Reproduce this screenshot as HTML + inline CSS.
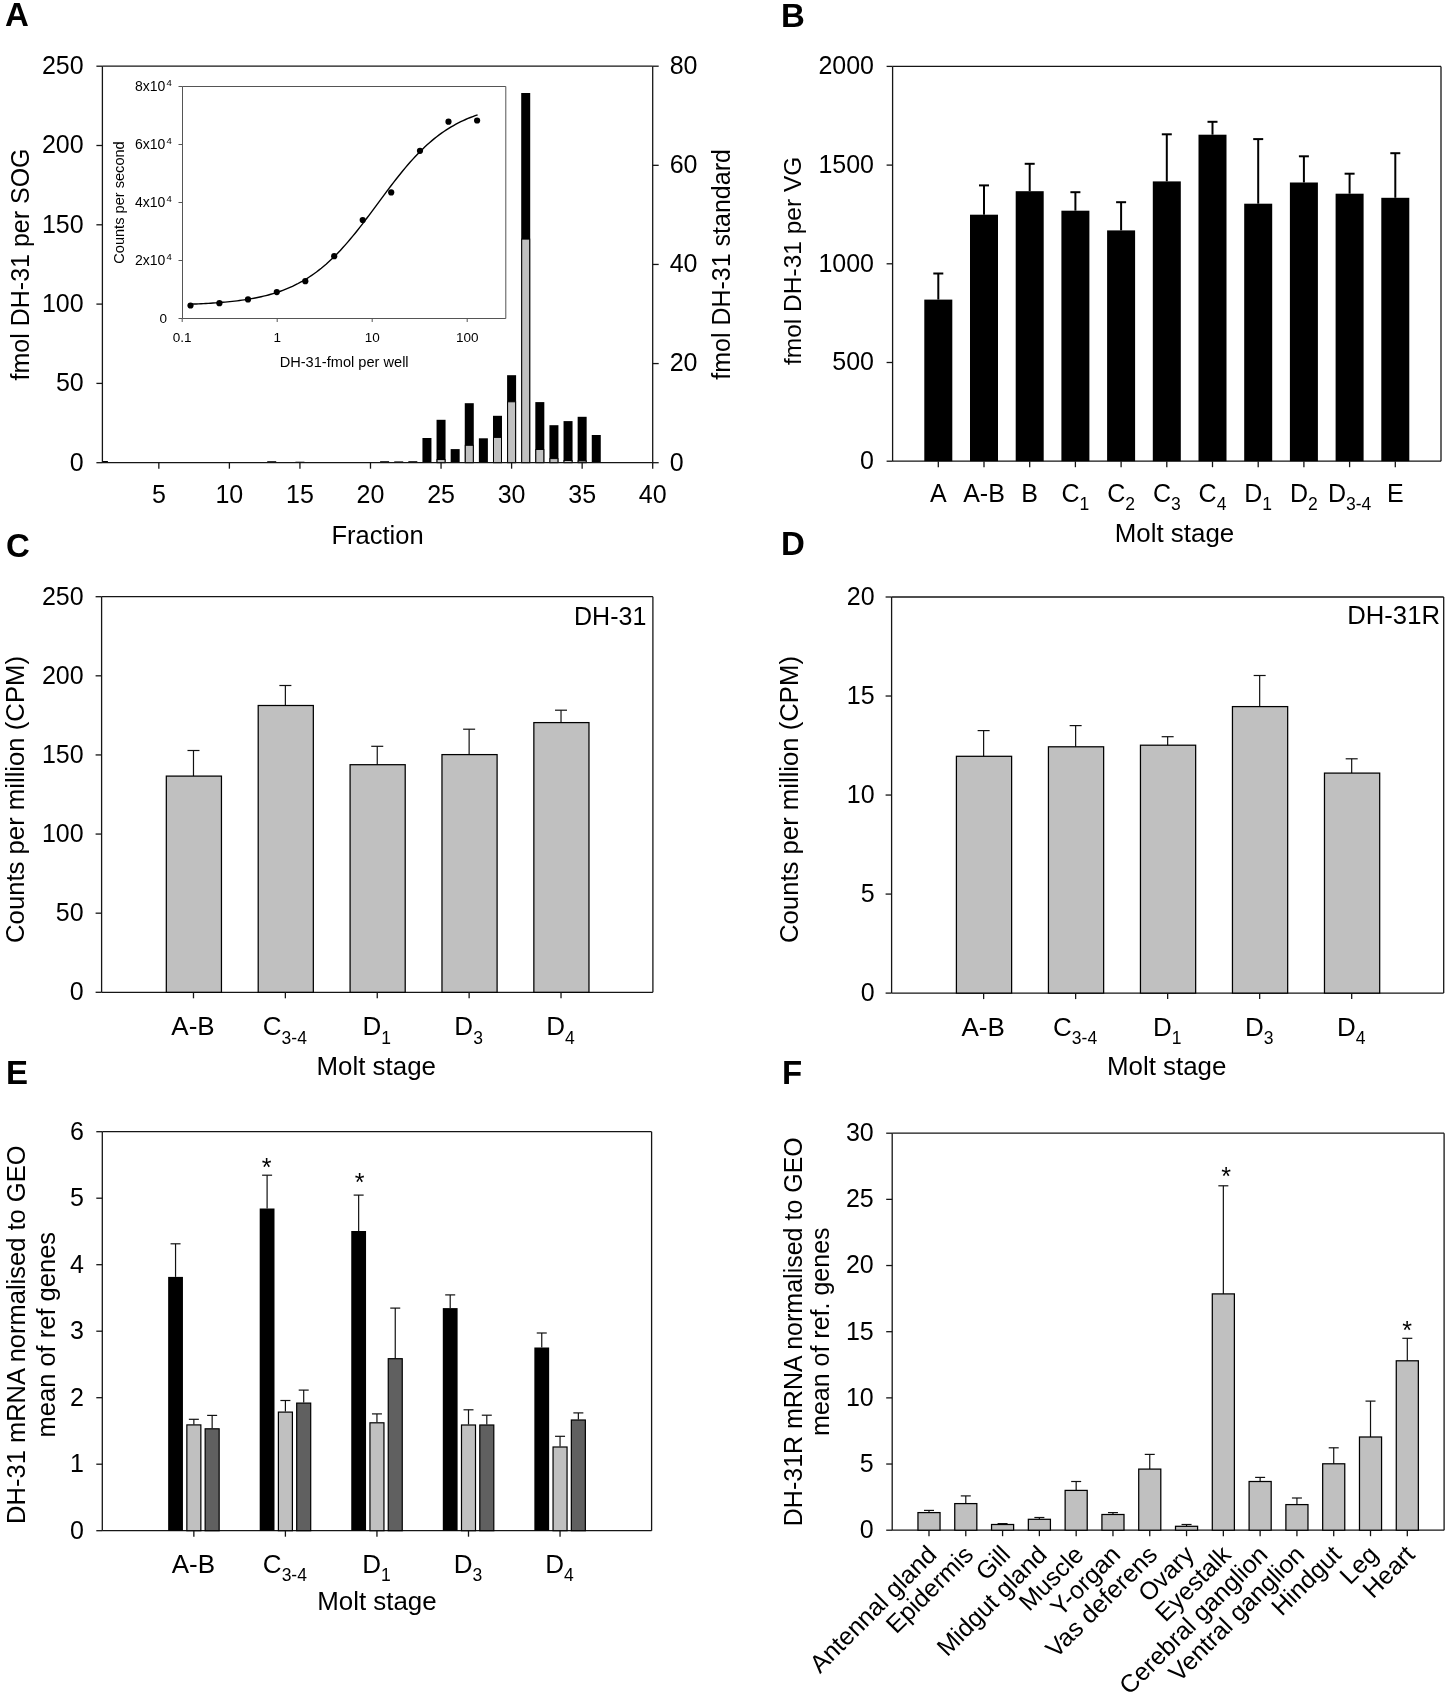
<!DOCTYPE html>
<html><head><meta charset="utf-8"><style>
html,body{margin:0;padding:0;background:#fff;}
svg{display:block;font-family:"Liberation Sans", sans-serif;will-change:transform;}
</style></head><body>
<svg width="1452" height="1702" viewBox="0 0 1452 1702" fill="#000">
<rect width="1452" height="1702" fill="#fff"/>
<text x="5.00" y="26.00" font-size="33" text-anchor="start" font-weight="bold">A</text>
<text x="781.00" y="27.00" font-size="33" text-anchor="start" font-weight="bold">B</text>
<text x="6.00" y="556.50" font-size="33" text-anchor="start" font-weight="bold">C</text>
<text x="781.00" y="555.30" font-size="33" text-anchor="start" font-weight="bold">D</text>
<text x="6.00" y="1084.00" font-size="33" text-anchor="start" font-weight="bold">E</text>
<text x="782.00" y="1084.00" font-size="33" text-anchor="start" font-weight="bold">F</text>
<rect x="102.40" y="461.00" width="5.50" height="1.70" fill="#000"/>
<rect x="267.22" y="461.20" width="9.00" height="1.50" fill="#000"/>
<rect x="295.44" y="461.70" width="9.00" height="1.00" fill="#000"/>
<rect x="380.11" y="461.20" width="9.00" height="1.50" fill="#000"/>
<rect x="394.22" y="461.40" width="9.00" height="1.30" fill="#000"/>
<rect x="408.33" y="461.20" width="9.00" height="1.50" fill="#000"/>
<rect x="422.44" y="438.00" width="9.00" height="24.70" fill="#000"/>
<rect x="436.55" y="419.80" width="9.00" height="42.90" fill="#000"/>
<rect x="450.66" y="449.10" width="9.00" height="13.60" fill="#000"/>
<rect x="464.77" y="403.20" width="9.00" height="59.50" fill="#000"/>
<rect x="478.88" y="438.30" width="9.00" height="24.40" fill="#000"/>
<rect x="492.99" y="415.80" width="9.00" height="46.90" fill="#000"/>
<rect x="507.10" y="375.20" width="9.00" height="87.50" fill="#000"/>
<rect x="521.21" y="93.00" width="9.00" height="369.70" fill="#000"/>
<rect x="535.32" y="402.10" width="9.00" height="60.60" fill="#000"/>
<rect x="549.43" y="425.20" width="9.00" height="37.50" fill="#000"/>
<rect x="563.54" y="421.10" width="9.00" height="41.60" fill="#000"/>
<rect x="577.65" y="416.80" width="9.00" height="45.90" fill="#000"/>
<rect x="591.76" y="435.00" width="9.00" height="27.70" fill="#000"/>
<rect x="437.05" y="459.50" width="8.00" height="3.20" fill="#c0c0c0" stroke="#000" stroke-width="1.0"/>
<rect x="465.27" y="445.30" width="8.00" height="17.40" fill="#c0c0c0" stroke="#000" stroke-width="1.0"/>
<rect x="493.49" y="437.40" width="8.00" height="25.30" fill="#c0c0c0" stroke="#000" stroke-width="1.0"/>
<rect x="507.60" y="401.80" width="8.00" height="60.90" fill="#c0c0c0" stroke="#000" stroke-width="1.0"/>
<rect x="521.71" y="239.10" width="8.00" height="223.60" fill="#c0c0c0" stroke="#000" stroke-width="1.0"/>
<rect x="535.82" y="449.50" width="8.00" height="13.20" fill="#c0c0c0" stroke="#000" stroke-width="1.0"/>
<rect x="549.93" y="458.60" width="8.00" height="4.10" fill="#c0c0c0" stroke="#000" stroke-width="1.0"/>
<rect x="564.04" y="460.50" width="8.00" height="2.20" fill="#c0c0c0" stroke="#000" stroke-width="1.0"/>
<rect x="578.15" y="460.90" width="8.00" height="1.80" fill="#c0c0c0" stroke="#000" stroke-width="1.0"/>
<line x1="102.40" y1="66.20" x2="652.70" y2="66.20" stroke="#151515" stroke-width="1.3"/>
<line x1="102.40" y1="462.70" x2="652.70" y2="462.70" stroke="#151515" stroke-width="1.3"/>
<line x1="102.40" y1="66.20" x2="102.40" y2="462.70" stroke="#151515" stroke-width="1.3"/>
<line x1="652.70" y1="66.20" x2="652.70" y2="462.70" stroke="#151515" stroke-width="1.3"/>
<line x1="96.40" y1="462.70" x2="102.40" y2="462.70" stroke="#151515" stroke-width="1.3"/>
<text x="83.70" y="470.55" font-size="25" text-anchor="end" font-weight="normal">0</text>
<line x1="96.40" y1="383.40" x2="102.40" y2="383.40" stroke="#151515" stroke-width="1.3"/>
<text x="83.70" y="391.25" font-size="25" text-anchor="end" font-weight="normal">50</text>
<line x1="96.40" y1="304.10" x2="102.40" y2="304.10" stroke="#151515" stroke-width="1.3"/>
<text x="83.70" y="311.95" font-size="25" text-anchor="end" font-weight="normal">100</text>
<line x1="96.40" y1="224.80" x2="102.40" y2="224.80" stroke="#151515" stroke-width="1.3"/>
<text x="83.70" y="232.65" font-size="25" text-anchor="end" font-weight="normal">150</text>
<line x1="96.40" y1="145.50" x2="102.40" y2="145.50" stroke="#151515" stroke-width="1.3"/>
<text x="83.70" y="153.35" font-size="25" text-anchor="end" font-weight="normal">200</text>
<line x1="96.40" y1="66.20" x2="102.40" y2="66.20" stroke="#151515" stroke-width="1.3"/>
<text x="83.70" y="74.05" font-size="25" text-anchor="end" font-weight="normal">250</text>
<line x1="652.70" y1="462.70" x2="658.70" y2="462.70" stroke="#151515" stroke-width="1.3"/>
<text x="669.70" y="470.55" font-size="25" text-anchor="start" font-weight="normal">0</text>
<line x1="652.70" y1="363.57" x2="658.70" y2="363.57" stroke="#151515" stroke-width="1.3"/>
<text x="669.70" y="371.43" font-size="25" text-anchor="start" font-weight="normal">20</text>
<line x1="652.70" y1="264.45" x2="658.70" y2="264.45" stroke="#151515" stroke-width="1.3"/>
<text x="669.70" y="272.30" font-size="25" text-anchor="start" font-weight="normal">40</text>
<line x1="652.70" y1="165.32" x2="658.70" y2="165.32" stroke="#151515" stroke-width="1.3"/>
<text x="669.70" y="173.17" font-size="25" text-anchor="start" font-weight="normal">60</text>
<line x1="652.70" y1="66.20" x2="658.70" y2="66.20" stroke="#151515" stroke-width="1.3"/>
<text x="669.70" y="74.05" font-size="25" text-anchor="start" font-weight="normal">80</text>
<line x1="158.84" y1="462.70" x2="158.84" y2="468.70" stroke="#151515" stroke-width="1.3"/>
<text x="158.84" y="502.50" font-size="25" text-anchor="middle" font-weight="normal">5</text>
<line x1="229.39" y1="462.70" x2="229.39" y2="468.70" stroke="#151515" stroke-width="1.3"/>
<text x="229.39" y="502.50" font-size="25" text-anchor="middle" font-weight="normal">10</text>
<line x1="299.94" y1="462.70" x2="299.94" y2="468.70" stroke="#151515" stroke-width="1.3"/>
<text x="299.94" y="502.50" font-size="25" text-anchor="middle" font-weight="normal">15</text>
<line x1="370.49" y1="462.70" x2="370.49" y2="468.70" stroke="#151515" stroke-width="1.3"/>
<text x="370.49" y="502.50" font-size="25" text-anchor="middle" font-weight="normal">20</text>
<line x1="441.05" y1="462.70" x2="441.05" y2="468.70" stroke="#151515" stroke-width="1.3"/>
<text x="441.05" y="502.50" font-size="25" text-anchor="middle" font-weight="normal">25</text>
<line x1="511.60" y1="462.70" x2="511.60" y2="468.70" stroke="#151515" stroke-width="1.3"/>
<text x="511.60" y="502.50" font-size="25" text-anchor="middle" font-weight="normal">30</text>
<line x1="582.15" y1="462.70" x2="582.15" y2="468.70" stroke="#151515" stroke-width="1.3"/>
<text x="582.15" y="502.50" font-size="25" text-anchor="middle" font-weight="normal">35</text>
<line x1="652.70" y1="462.70" x2="652.70" y2="468.70" stroke="#151515" stroke-width="1.3"/>
<text x="652.70" y="502.50" font-size="25" text-anchor="middle" font-weight="normal">40</text>
<text x="377.55" y="544.40" font-size="25.5" text-anchor="middle" font-weight="normal">Fraction</text>
<text x="29.00" y="264.45" font-size="25" text-anchor="middle" transform="rotate(-90 29.00 264.45)">fmol DH-31 per SOG</text>
<text x="730.50" y="264.45" font-size="25" text-anchor="middle" transform="rotate(-90 730.50 264.45)">fmol DH-31 standard</text>
<line x1="182.50" y1="86.50" x2="505.80" y2="86.50" stroke="#555" stroke-width="1.0"/>
<line x1="182.50" y1="318.50" x2="505.80" y2="318.50" stroke="#555" stroke-width="1.0"/>
<line x1="182.50" y1="86.50" x2="182.50" y2="318.50" stroke="#555" stroke-width="1.0"/>
<line x1="505.80" y1="86.50" x2="505.80" y2="318.50" stroke="#555" stroke-width="1.0"/>
<line x1="178.50" y1="318.50" x2="182.50" y2="318.50" stroke="#555" stroke-width="1.0"/>
<text x="167.00" y="323.30" font-size="13.5" text-anchor="end" font-weight="normal">0</text>
<line x1="178.50" y1="260.50" x2="182.50" y2="260.50" stroke="#555" stroke-width="1.0"/>
<text x="171.90" y="265.40" font-size="14" text-anchor="end">2x10<tspan font-size="9.5" dx="1.2" dy="-5.6">4</tspan></text>
<line x1="178.50" y1="202.50" x2="182.50" y2="202.50" stroke="#555" stroke-width="1.0"/>
<text x="171.90" y="207.40" font-size="14" text-anchor="end">4x10<tspan font-size="9.5" dx="1.2" dy="-5.6">4</tspan></text>
<line x1="178.50" y1="144.50" x2="182.50" y2="144.50" stroke="#555" stroke-width="1.0"/>
<text x="171.90" y="149.40" font-size="14" text-anchor="end">6x10<tspan font-size="9.5" dx="1.2" dy="-5.6">4</tspan></text>
<line x1="178.50" y1="86.50" x2="182.50" y2="86.50" stroke="#555" stroke-width="1.0"/>
<text x="171.90" y="91.40" font-size="14" text-anchor="end">8x10<tspan font-size="9.5" dx="1.2" dy="-5.6">4</tspan></text>
<line x1="182.20" y1="318.50" x2="182.20" y2="322.00" stroke="#555" stroke-width="1.0"/>
<text x="182.20" y="342.20" font-size="13.5" text-anchor="middle" font-weight="normal">0.1</text>
<line x1="277.20" y1="318.50" x2="277.20" y2="322.00" stroke="#555" stroke-width="1.0"/>
<text x="277.20" y="342.20" font-size="13.5" text-anchor="middle" font-weight="normal">1</text>
<line x1="372.20" y1="318.50" x2="372.20" y2="322.00" stroke="#555" stroke-width="1.0"/>
<text x="372.20" y="342.20" font-size="13.5" text-anchor="middle" font-weight="normal">10</text>
<line x1="467.20" y1="318.50" x2="467.20" y2="322.00" stroke="#555" stroke-width="1.0"/>
<text x="467.20" y="342.20" font-size="13.5" text-anchor="middle" font-weight="normal">100</text>
<text x="344.15" y="366.90" font-size="14.6" text-anchor="middle" font-weight="normal">DH-31-fmol per well</text>
<text x="124.30" y="202.50" font-size="14.6" text-anchor="middle" transform="rotate(-90 124.30 202.50)">Counts per second</text>
<path d="M191.41,304.16 L193.81,304.07 L196.22,303.97 L198.62,303.86 L201.03,303.74 L203.43,303.62 L205.84,303.49 L208.24,303.35 L210.65,303.21 L213.05,303.05 L215.46,302.88 L217.86,302.71 L220.27,302.52 L222.67,302.32 L225.08,302.10 L227.48,301.88 L229.89,301.63 L232.29,301.38 L234.70,301.11 L237.10,300.82 L239.51,300.51 L241.91,300.18 L244.32,299.83 L246.72,299.46 L249.13,299.07 L251.53,298.66 L253.94,298.21 L256.34,297.75 L258.75,297.25 L261.15,296.72 L263.56,296.17 L265.96,295.57 L268.37,294.95 L270.77,294.29 L273.18,293.58 L275.58,292.84 L277.99,292.06 L280.39,291.23 L282.80,290.35 L285.20,289.43 L287.61,288.45 L290.01,287.42 L292.42,286.34 L294.82,285.20 L297.23,284.00 L299.63,282.73 L302.04,281.41 L304.44,280.01 L306.85,278.55 L309.25,277.02 L311.66,275.42 L314.06,273.74 L316.47,271.99 L318.87,270.16 L321.28,268.26 L323.68,266.27 L326.09,264.21 L328.49,262.06 L330.90,259.84 L333.30,257.54 L335.71,255.16 L338.11,252.70 L340.52,250.16 L342.92,247.55 L345.33,244.86 L347.73,242.11 L350.14,239.29 L352.54,236.40 L354.95,233.46 L357.35,230.46 L359.76,227.41 L362.16,224.31 L364.57,221.17 L366.97,218.00 L369.38,214.80 L371.78,211.57 L374.19,208.33 L376.59,205.08 L379.00,201.83 L381.40,198.57 L383.81,195.33 L386.21,192.11 L388.62,188.91 L391.02,185.74 L393.43,182.60 L395.83,179.50 L398.24,176.45 L400.64,173.45 L403.05,170.51 L405.45,167.62 L407.86,164.80 L410.26,162.05 L412.67,159.36 L415.07,156.75 L417.48,154.22 L419.88,151.76 L422.29,149.38 L424.69,147.08 L427.10,144.85 L429.50,142.71 L431.91,140.65 L434.31,138.66 L436.72,136.76 L439.12,134.93 L441.53,133.18 L443.93,131.50 L446.34,129.90 L448.74,128.37 L451.15,126.91 L453.55,125.52 L455.96,124.19 L458.36,122.93 L460.77,121.73 L463.17,120.59 L465.58,119.51 L467.98,118.48 L470.39,117.50 L472.79,116.58 L475.20,115.70 L477.60,114.87" fill="none" stroke="#000" stroke-width="1.4"/>
<circle cx="190.50" cy="305.50" r="3.1" fill="#000"/>
<circle cx="219.40" cy="303.20" r="3.1" fill="#000"/>
<circle cx="248.00" cy="299.40" r="3.1" fill="#000"/>
<circle cx="276.80" cy="292.10" r="3.1" fill="#000"/>
<circle cx="305.30" cy="281.20" r="3.1" fill="#000"/>
<circle cx="334.20" cy="256.20" r="3.1" fill="#000"/>
<circle cx="362.70" cy="220.00" r="3.1" fill="#000"/>
<circle cx="391.20" cy="192.40" r="3.1" fill="#000"/>
<circle cx="420.00" cy="150.80" r="3.1" fill="#000"/>
<circle cx="448.50" cy="121.70" r="3.1" fill="#000"/>
<circle cx="477.10" cy="120.50" r="3.1" fill="#000"/>
<line x1="892.60" y1="66.40" x2="1441.00" y2="66.40" stroke="#151515" stroke-width="1.3"/>
<line x1="892.60" y1="461.20" x2="1441.00" y2="461.20" stroke="#151515" stroke-width="1.3"/>
<line x1="892.60" y1="66.40" x2="892.60" y2="461.20" stroke="#151515" stroke-width="1.3"/>
<line x1="1441.00" y1="66.40" x2="1441.00" y2="461.20" stroke="#151515" stroke-width="1.3"/>
<line x1="886.60" y1="461.20" x2="892.60" y2="461.20" stroke="#151515" stroke-width="1.3"/>
<text x="874.00" y="469.05" font-size="25" text-anchor="end" font-weight="normal">0</text>
<line x1="886.60" y1="362.50" x2="892.60" y2="362.50" stroke="#151515" stroke-width="1.3"/>
<text x="874.00" y="370.35" font-size="25" text-anchor="end" font-weight="normal">500</text>
<line x1="886.60" y1="263.80" x2="892.60" y2="263.80" stroke="#151515" stroke-width="1.3"/>
<text x="874.00" y="271.65" font-size="25" text-anchor="end" font-weight="normal">1000</text>
<line x1="886.60" y1="165.10" x2="892.60" y2="165.10" stroke="#151515" stroke-width="1.3"/>
<text x="874.00" y="172.95" font-size="25" text-anchor="end" font-weight="normal">1500</text>
<line x1="886.60" y1="66.40" x2="892.60" y2="66.40" stroke="#151515" stroke-width="1.3"/>
<text x="874.00" y="74.25" font-size="25" text-anchor="end" font-weight="normal">2000</text>
<rect x="924.30" y="299.60" width="28.00" height="161.60" fill="#000"/>
<line x1="938.30" y1="299.60" x2="938.30" y2="273.50" stroke="#000" stroke-width="2.0"/>
<line x1="933.30" y1="273.50" x2="943.30" y2="273.50" stroke="#000" stroke-width="2.0"/>
<line x1="938.30" y1="461.20" x2="938.30" y2="467.20" stroke="#151515" stroke-width="1.3"/>
<text x="938.30" y="501.70" font-size="25" text-anchor="middle" font-weight="normal">A</text>
<rect x="970.00" y="214.70" width="28.00" height="246.50" fill="#000"/>
<line x1="984.00" y1="214.70" x2="984.00" y2="185.40" stroke="#000" stroke-width="2.0"/>
<line x1="979.00" y1="185.40" x2="989.00" y2="185.40" stroke="#000" stroke-width="2.0"/>
<line x1="984.00" y1="461.20" x2="984.00" y2="467.20" stroke="#151515" stroke-width="1.3"/>
<text x="984.00" y="501.70" font-size="25" text-anchor="middle" font-weight="normal">A-B</text>
<rect x="1015.70" y="191.20" width="28.00" height="270.00" fill="#000"/>
<line x1="1029.70" y1="191.20" x2="1029.70" y2="163.80" stroke="#000" stroke-width="2.0"/>
<line x1="1024.70" y1="163.80" x2="1034.70" y2="163.80" stroke="#000" stroke-width="2.0"/>
<line x1="1029.70" y1="461.20" x2="1029.70" y2="467.20" stroke="#151515" stroke-width="1.3"/>
<text x="1029.70" y="501.70" font-size="25" text-anchor="middle" font-weight="normal">B</text>
<rect x="1061.40" y="210.70" width="28.00" height="250.50" fill="#000"/>
<line x1="1075.40" y1="210.70" x2="1075.40" y2="192.20" stroke="#000" stroke-width="2.0"/>
<line x1="1070.40" y1="192.20" x2="1080.40" y2="192.20" stroke="#000" stroke-width="2.0"/>
<line x1="1075.40" y1="461.20" x2="1075.40" y2="467.20" stroke="#151515" stroke-width="1.3"/>
<text x="1075.40" y="501.70" font-size="25" text-anchor="middle">C<tspan font-size="17.5" dy="8">1</tspan></text>
<rect x="1107.10" y="230.40" width="28.00" height="230.80" fill="#000"/>
<line x1="1121.10" y1="230.40" x2="1121.10" y2="202.20" stroke="#000" stroke-width="2.0"/>
<line x1="1116.10" y1="202.20" x2="1126.10" y2="202.20" stroke="#000" stroke-width="2.0"/>
<line x1="1121.10" y1="461.20" x2="1121.10" y2="467.20" stroke="#151515" stroke-width="1.3"/>
<text x="1121.10" y="501.70" font-size="25" text-anchor="middle">C<tspan font-size="17.5" dy="8">2</tspan></text>
<rect x="1152.80" y="181.40" width="28.00" height="279.80" fill="#000"/>
<line x1="1166.80" y1="181.40" x2="1166.80" y2="134.30" stroke="#000" stroke-width="2.0"/>
<line x1="1161.80" y1="134.30" x2="1171.80" y2="134.30" stroke="#000" stroke-width="2.0"/>
<line x1="1166.80" y1="461.20" x2="1166.80" y2="467.20" stroke="#151515" stroke-width="1.3"/>
<text x="1166.80" y="501.70" font-size="25" text-anchor="middle">C<tspan font-size="17.5" dy="8">3</tspan></text>
<rect x="1198.50" y="134.70" width="28.00" height="326.50" fill="#000"/>
<line x1="1212.50" y1="134.70" x2="1212.50" y2="121.80" stroke="#000" stroke-width="2.0"/>
<line x1="1207.50" y1="121.80" x2="1217.50" y2="121.80" stroke="#000" stroke-width="2.0"/>
<line x1="1212.50" y1="461.20" x2="1212.50" y2="467.20" stroke="#151515" stroke-width="1.3"/>
<text x="1212.50" y="501.70" font-size="25" text-anchor="middle">C<tspan font-size="17.5" dy="8">4</tspan></text>
<rect x="1244.20" y="203.70" width="28.00" height="257.50" fill="#000"/>
<line x1="1258.20" y1="203.70" x2="1258.20" y2="139.10" stroke="#000" stroke-width="2.0"/>
<line x1="1253.20" y1="139.10" x2="1263.20" y2="139.10" stroke="#000" stroke-width="2.0"/>
<line x1="1258.20" y1="461.20" x2="1258.20" y2="467.20" stroke="#151515" stroke-width="1.3"/>
<text x="1258.20" y="501.70" font-size="25" text-anchor="middle">D<tspan font-size="17.5" dy="8">1</tspan></text>
<rect x="1289.90" y="182.50" width="28.00" height="278.70" fill="#000"/>
<line x1="1303.90" y1="182.50" x2="1303.90" y2="156.30" stroke="#000" stroke-width="2.0"/>
<line x1="1298.90" y1="156.30" x2="1308.90" y2="156.30" stroke="#000" stroke-width="2.0"/>
<line x1="1303.90" y1="461.20" x2="1303.90" y2="467.20" stroke="#151515" stroke-width="1.3"/>
<text x="1303.90" y="501.70" font-size="25" text-anchor="middle">D<tspan font-size="17.5" dy="8">2</tspan></text>
<rect x="1335.60" y="193.70" width="28.00" height="267.50" fill="#000"/>
<line x1="1349.60" y1="193.70" x2="1349.60" y2="173.70" stroke="#000" stroke-width="2.0"/>
<line x1="1344.60" y1="173.70" x2="1354.60" y2="173.70" stroke="#000" stroke-width="2.0"/>
<line x1="1349.60" y1="461.20" x2="1349.60" y2="467.20" stroke="#151515" stroke-width="1.3"/>
<text x="1349.60" y="501.70" font-size="25" text-anchor="middle">D<tspan font-size="17.5" dy="8">3-4</tspan></text>
<rect x="1381.30" y="197.80" width="28.00" height="263.40" fill="#000"/>
<line x1="1395.30" y1="197.80" x2="1395.30" y2="153.20" stroke="#000" stroke-width="2.0"/>
<line x1="1390.30" y1="153.20" x2="1400.30" y2="153.20" stroke="#000" stroke-width="2.0"/>
<line x1="1395.30" y1="461.20" x2="1395.30" y2="467.20" stroke="#151515" stroke-width="1.3"/>
<text x="1395.30" y="501.70" font-size="25" text-anchor="middle" font-weight="normal">E</text>
<text x="1174.50" y="542.40" font-size="25.9" text-anchor="middle" font-weight="normal">Molt stage</text>
<text x="800.70" y="260.80" font-size="24.5" text-anchor="middle" transform="rotate(-90 800.70 260.80)">fmol DH-31 per VG</text>
<line x1="101.60" y1="596.70" x2="652.90" y2="596.70" stroke="#151515" stroke-width="1.3"/>
<line x1="101.60" y1="992.30" x2="652.90" y2="992.30" stroke="#151515" stroke-width="1.3"/>
<line x1="101.60" y1="596.70" x2="101.60" y2="992.30" stroke="#151515" stroke-width="1.3"/>
<line x1="652.90" y1="596.70" x2="652.90" y2="992.30" stroke="#151515" stroke-width="1.3"/>
<line x1="95.60" y1="992.30" x2="101.60" y2="992.30" stroke="#151515" stroke-width="1.3"/>
<text x="83.60" y="1000.15" font-size="25" text-anchor="end" font-weight="normal">0</text>
<line x1="95.60" y1="913.18" x2="101.60" y2="913.18" stroke="#151515" stroke-width="1.3"/>
<text x="83.60" y="921.03" font-size="25" text-anchor="end" font-weight="normal">50</text>
<line x1="95.60" y1="834.06" x2="101.60" y2="834.06" stroke="#151515" stroke-width="1.3"/>
<text x="83.60" y="841.91" font-size="25" text-anchor="end" font-weight="normal">100</text>
<line x1="95.60" y1="754.94" x2="101.60" y2="754.94" stroke="#151515" stroke-width="1.3"/>
<text x="83.60" y="762.79" font-size="25" text-anchor="end" font-weight="normal">150</text>
<line x1="95.60" y1="675.82" x2="101.60" y2="675.82" stroke="#151515" stroke-width="1.3"/>
<text x="83.60" y="683.67" font-size="25" text-anchor="end" font-weight="normal">200</text>
<line x1="95.60" y1="596.70" x2="101.60" y2="596.70" stroke="#151515" stroke-width="1.3"/>
<text x="83.60" y="604.55" font-size="25" text-anchor="end" font-weight="normal">250</text>
<line x1="193.48" y1="776.10" x2="193.48" y2="750.50" stroke="#111" stroke-width="1.2"/>
<line x1="187.48" y1="750.50" x2="199.48" y2="750.50" stroke="#111" stroke-width="1.2"/>
<rect x="166.32" y="776.10" width="55.13" height="216.20" fill="#c0c0c0" stroke="#000" stroke-width="1.25"/>
<line x1="193.48" y1="992.30" x2="193.48" y2="998.30" stroke="#151515" stroke-width="1.3"/>
<text x="192.98" y="1035.20" font-size="26" text-anchor="middle" font-weight="normal">A-B</text>
<line x1="285.37" y1="705.50" x2="285.37" y2="685.50" stroke="#111" stroke-width="1.2"/>
<line x1="279.37" y1="685.50" x2="291.37" y2="685.50" stroke="#111" stroke-width="1.2"/>
<rect x="258.20" y="705.50" width="55.13" height="286.80" fill="#c0c0c0" stroke="#000" stroke-width="1.25"/>
<line x1="285.37" y1="992.30" x2="285.37" y2="998.30" stroke="#151515" stroke-width="1.3"/>
<text x="284.87" y="1035.20" font-size="26" text-anchor="middle">C<tspan font-size="17.5" dy="8.3">3-4</tspan></text>
<line x1="377.25" y1="764.70" x2="377.25" y2="746.30" stroke="#111" stroke-width="1.2"/>
<line x1="371.25" y1="746.30" x2="383.25" y2="746.30" stroke="#111" stroke-width="1.2"/>
<rect x="350.08" y="764.70" width="55.13" height="227.60" fill="#c0c0c0" stroke="#000" stroke-width="1.25"/>
<line x1="377.25" y1="992.30" x2="377.25" y2="998.30" stroke="#151515" stroke-width="1.3"/>
<text x="376.75" y="1035.20" font-size="26" text-anchor="middle">D<tspan font-size="17.5" dy="8.3">1</tspan></text>
<line x1="469.13" y1="754.60" x2="469.13" y2="729.20" stroke="#111" stroke-width="1.2"/>
<line x1="463.13" y1="729.20" x2="475.13" y2="729.20" stroke="#111" stroke-width="1.2"/>
<rect x="441.97" y="754.60" width="55.13" height="237.70" fill="#c0c0c0" stroke="#000" stroke-width="1.25"/>
<line x1="469.13" y1="992.30" x2="469.13" y2="998.30" stroke="#151515" stroke-width="1.3"/>
<text x="468.63" y="1035.20" font-size="26" text-anchor="middle">D<tspan font-size="17.5" dy="8.3">3</tspan></text>
<line x1="561.02" y1="722.60" x2="561.02" y2="710.20" stroke="#111" stroke-width="1.2"/>
<line x1="555.02" y1="710.20" x2="567.02" y2="710.20" stroke="#111" stroke-width="1.2"/>
<rect x="533.85" y="722.60" width="55.13" height="269.70" fill="#c0c0c0" stroke="#000" stroke-width="1.25"/>
<line x1="561.02" y1="992.30" x2="561.02" y2="998.30" stroke="#151515" stroke-width="1.3"/>
<text x="560.52" y="1035.20" font-size="26" text-anchor="middle">D<tspan font-size="17.5" dy="8.3">4</tspan></text>
<text x="376.25" y="1075.00" font-size="25.9" text-anchor="middle" font-weight="normal">Molt stage</text>
<text x="646.30" y="624.50" font-size="25" text-anchor="end" font-weight="normal">DH-31</text>
<text x="23.70" y="799.50" font-size="25.7" text-anchor="middle" transform="rotate(-90 23.70 799.50)">Counts per million (CPM)</text>
<line x1="891.60" y1="597.00" x2="1443.70" y2="597.00" stroke="#151515" stroke-width="1.3"/>
<line x1="891.60" y1="993.10" x2="1443.70" y2="993.10" stroke="#151515" stroke-width="1.3"/>
<line x1="891.60" y1="597.00" x2="891.60" y2="993.10" stroke="#151515" stroke-width="1.3"/>
<line x1="1443.70" y1="597.00" x2="1443.70" y2="993.10" stroke="#151515" stroke-width="1.3"/>
<line x1="885.60" y1="993.10" x2="891.60" y2="993.10" stroke="#151515" stroke-width="1.3"/>
<text x="874.60" y="1000.95" font-size="25" text-anchor="end" font-weight="normal">0</text>
<line x1="885.60" y1="894.08" x2="891.60" y2="894.08" stroke="#151515" stroke-width="1.3"/>
<text x="874.60" y="901.93" font-size="25" text-anchor="end" font-weight="normal">5</text>
<line x1="885.60" y1="795.05" x2="891.60" y2="795.05" stroke="#151515" stroke-width="1.3"/>
<text x="874.60" y="802.90" font-size="25" text-anchor="end" font-weight="normal">10</text>
<line x1="885.60" y1="696.02" x2="891.60" y2="696.02" stroke="#151515" stroke-width="1.3"/>
<text x="874.60" y="703.88" font-size="25" text-anchor="end" font-weight="normal">15</text>
<line x1="885.60" y1="597.00" x2="891.60" y2="597.00" stroke="#151515" stroke-width="1.3"/>
<text x="874.60" y="604.85" font-size="25" text-anchor="end" font-weight="normal">20</text>
<line x1="983.62" y1="756.30" x2="983.62" y2="730.60" stroke="#111" stroke-width="1.2"/>
<line x1="977.62" y1="730.60" x2="989.62" y2="730.60" stroke="#111" stroke-width="1.2"/>
<rect x="956.41" y="756.30" width="55.21" height="236.80" fill="#c0c0c0" stroke="#000" stroke-width="1.25"/>
<line x1="983.62" y1="993.10" x2="983.62" y2="999.10" stroke="#151515" stroke-width="1.3"/>
<text x="983.12" y="1035.70" font-size="26" text-anchor="middle" font-weight="normal">A-B</text>
<line x1="1075.63" y1="746.80" x2="1075.63" y2="725.60" stroke="#111" stroke-width="1.2"/>
<line x1="1069.63" y1="725.60" x2="1081.63" y2="725.60" stroke="#111" stroke-width="1.2"/>
<rect x="1048.43" y="746.80" width="55.21" height="246.30" fill="#c0c0c0" stroke="#000" stroke-width="1.25"/>
<line x1="1075.63" y1="993.10" x2="1075.63" y2="999.10" stroke="#151515" stroke-width="1.3"/>
<text x="1075.13" y="1035.70" font-size="26" text-anchor="middle">C<tspan font-size="17.5" dy="8.3">3-4</tspan></text>
<line x1="1167.65" y1="745.20" x2="1167.65" y2="736.70" stroke="#111" stroke-width="1.2"/>
<line x1="1161.65" y1="736.70" x2="1173.65" y2="736.70" stroke="#111" stroke-width="1.2"/>
<rect x="1140.45" y="745.20" width="55.21" height="247.90" fill="#c0c0c0" stroke="#000" stroke-width="1.25"/>
<line x1="1167.65" y1="993.10" x2="1167.65" y2="999.10" stroke="#151515" stroke-width="1.3"/>
<text x="1167.15" y="1035.70" font-size="26" text-anchor="middle">D<tspan font-size="17.5" dy="8.3">1</tspan></text>
<line x1="1259.67" y1="706.60" x2="1259.67" y2="675.50" stroke="#111" stroke-width="1.2"/>
<line x1="1253.67" y1="675.50" x2="1265.67" y2="675.50" stroke="#111" stroke-width="1.2"/>
<rect x="1232.46" y="706.60" width="55.21" height="286.50" fill="#c0c0c0" stroke="#000" stroke-width="1.25"/>
<line x1="1259.67" y1="993.10" x2="1259.67" y2="999.10" stroke="#151515" stroke-width="1.3"/>
<text x="1259.17" y="1035.70" font-size="26" text-anchor="middle">D<tspan font-size="17.5" dy="8.3">3</tspan></text>
<line x1="1351.68" y1="773.10" x2="1351.68" y2="758.80" stroke="#111" stroke-width="1.2"/>
<line x1="1345.68" y1="758.80" x2="1357.68" y2="758.80" stroke="#111" stroke-width="1.2"/>
<rect x="1324.48" y="773.10" width="55.21" height="220.00" fill="#c0c0c0" stroke="#000" stroke-width="1.25"/>
<line x1="1351.68" y1="993.10" x2="1351.68" y2="999.10" stroke="#151515" stroke-width="1.3"/>
<text x="1351.18" y="1035.70" font-size="26" text-anchor="middle">D<tspan font-size="17.5" dy="8.3">4</tspan></text>
<text x="1166.65" y="1075.10" font-size="25.9" text-anchor="middle" font-weight="normal">Molt stage</text>
<text x="1440.00" y="623.60" font-size="25.7" text-anchor="end" font-weight="normal">DH-31R</text>
<text x="797.50" y="799.50" font-size="25.7" text-anchor="middle" transform="rotate(-90 797.50 799.50)">Counts per million (CPM)</text>
<line x1="102.30" y1="1131.70" x2="651.60" y2="1131.70" stroke="#151515" stroke-width="1.3"/>
<line x1="102.30" y1="1530.70" x2="651.60" y2="1530.70" stroke="#151515" stroke-width="1.3"/>
<line x1="102.30" y1="1131.70" x2="102.30" y2="1530.70" stroke="#151515" stroke-width="1.3"/>
<line x1="651.60" y1="1131.70" x2="651.60" y2="1530.70" stroke="#151515" stroke-width="1.3"/>
<line x1="96.30" y1="1530.70" x2="102.30" y2="1530.70" stroke="#151515" stroke-width="1.3"/>
<text x="83.80" y="1538.55" font-size="25" text-anchor="end" font-weight="normal">0</text>
<line x1="96.30" y1="1464.20" x2="102.30" y2="1464.20" stroke="#151515" stroke-width="1.3"/>
<text x="83.80" y="1472.05" font-size="25" text-anchor="end" font-weight="normal">1</text>
<line x1="96.30" y1="1397.70" x2="102.30" y2="1397.70" stroke="#151515" stroke-width="1.3"/>
<text x="83.80" y="1405.55" font-size="25" text-anchor="end" font-weight="normal">2</text>
<line x1="96.30" y1="1331.20" x2="102.30" y2="1331.20" stroke="#151515" stroke-width="1.3"/>
<text x="83.80" y="1339.05" font-size="25" text-anchor="end" font-weight="normal">3</text>
<line x1="96.30" y1="1264.70" x2="102.30" y2="1264.70" stroke="#151515" stroke-width="1.3"/>
<text x="83.80" y="1272.55" font-size="25" text-anchor="end" font-weight="normal">4</text>
<line x1="96.30" y1="1198.20" x2="102.30" y2="1198.20" stroke="#151515" stroke-width="1.3"/>
<text x="83.80" y="1206.05" font-size="25" text-anchor="end" font-weight="normal">5</text>
<line x1="96.30" y1="1131.70" x2="102.30" y2="1131.70" stroke="#151515" stroke-width="1.3"/>
<text x="83.80" y="1139.55" font-size="25" text-anchor="end" font-weight="normal">6</text>
<line x1="175.55" y1="1276.90" x2="175.55" y2="1243.80" stroke="#111" stroke-width="1.2"/>
<line x1="170.55" y1="1243.80" x2="180.55" y2="1243.80" stroke="#111" stroke-width="1.2"/>
<rect x="168.15" y="1276.90" width="14.80" height="253.80" fill="#000"/>
<line x1="193.85" y1="1424.40" x2="193.85" y2="1419.30" stroke="#111" stroke-width="1.2"/>
<line x1="188.85" y1="1419.30" x2="198.85" y2="1419.30" stroke="#111" stroke-width="1.2"/>
<rect x="186.85" y="1424.90" width="14.00" height="105.80" fill="#c0c0c0" stroke="#000" stroke-width="1.2"/>
<line x1="212.15" y1="1428.30" x2="212.15" y2="1415.40" stroke="#111" stroke-width="1.2"/>
<line x1="207.15" y1="1415.40" x2="217.15" y2="1415.40" stroke="#111" stroke-width="1.2"/>
<rect x="205.15" y="1428.80" width="14.00" height="101.90" fill="#606060" stroke="#000" stroke-width="1.2"/>
<line x1="193.85" y1="1530.70" x2="193.85" y2="1536.70" stroke="#151515" stroke-width="1.3"/>
<text x="193.35" y="1572.80" font-size="26" text-anchor="middle" font-weight="normal">A-B</text>
<line x1="267.10" y1="1208.50" x2="267.10" y2="1175.20" stroke="#111" stroke-width="1.2"/>
<line x1="262.10" y1="1175.20" x2="272.10" y2="1175.20" stroke="#111" stroke-width="1.2"/>
<rect x="259.70" y="1208.50" width="14.80" height="322.20" fill="#000"/>
<line x1="285.40" y1="1411.60" x2="285.40" y2="1400.50" stroke="#111" stroke-width="1.2"/>
<line x1="280.40" y1="1400.50" x2="290.40" y2="1400.50" stroke="#111" stroke-width="1.2"/>
<rect x="278.40" y="1412.10" width="14.00" height="118.60" fill="#c0c0c0" stroke="#000" stroke-width="1.2"/>
<line x1="303.70" y1="1402.60" x2="303.70" y2="1390.10" stroke="#111" stroke-width="1.2"/>
<line x1="298.70" y1="1390.10" x2="308.70" y2="1390.10" stroke="#111" stroke-width="1.2"/>
<rect x="296.70" y="1403.10" width="14.00" height="127.60" fill="#606060" stroke="#000" stroke-width="1.2"/>
<line x1="285.40" y1="1530.70" x2="285.40" y2="1536.70" stroke="#151515" stroke-width="1.3"/>
<text x="284.90" y="1572.80" font-size="26" text-anchor="middle">C<tspan font-size="17.5" dy="8.3">3-4</tspan></text>
<line x1="358.65" y1="1231.00" x2="358.65" y2="1195.10" stroke="#111" stroke-width="1.2"/>
<line x1="353.65" y1="1195.10" x2="363.65" y2="1195.10" stroke="#111" stroke-width="1.2"/>
<rect x="351.25" y="1231.00" width="14.80" height="299.70" fill="#000"/>
<line x1="376.95" y1="1422.30" x2="376.95" y2="1413.90" stroke="#111" stroke-width="1.2"/>
<line x1="371.95" y1="1413.90" x2="381.95" y2="1413.90" stroke="#111" stroke-width="1.2"/>
<rect x="369.95" y="1422.80" width="14.00" height="107.90" fill="#c0c0c0" stroke="#000" stroke-width="1.2"/>
<line x1="395.25" y1="1358.20" x2="395.25" y2="1308.10" stroke="#111" stroke-width="1.2"/>
<line x1="390.25" y1="1308.10" x2="400.25" y2="1308.10" stroke="#111" stroke-width="1.2"/>
<rect x="388.25" y="1358.70" width="14.00" height="172.00" fill="#606060" stroke="#000" stroke-width="1.2"/>
<line x1="376.95" y1="1530.70" x2="376.95" y2="1536.70" stroke="#151515" stroke-width="1.3"/>
<text x="376.45" y="1572.80" font-size="26" text-anchor="middle">D<tspan font-size="17.5" dy="8.3">1</tspan></text>
<line x1="450.20" y1="1308.10" x2="450.20" y2="1294.90" stroke="#111" stroke-width="1.2"/>
<line x1="445.20" y1="1294.90" x2="455.20" y2="1294.90" stroke="#111" stroke-width="1.2"/>
<rect x="442.80" y="1308.10" width="14.80" height="222.60" fill="#000"/>
<line x1="468.50" y1="1424.50" x2="468.50" y2="1409.80" stroke="#111" stroke-width="1.2"/>
<line x1="463.50" y1="1409.80" x2="473.50" y2="1409.80" stroke="#111" stroke-width="1.2"/>
<rect x="461.50" y="1425.00" width="14.00" height="105.70" fill="#c0c0c0" stroke="#000" stroke-width="1.2"/>
<line x1="486.80" y1="1424.50" x2="486.80" y2="1415.20" stroke="#111" stroke-width="1.2"/>
<line x1="481.80" y1="1415.20" x2="491.80" y2="1415.20" stroke="#111" stroke-width="1.2"/>
<rect x="479.80" y="1425.00" width="14.00" height="105.70" fill="#606060" stroke="#000" stroke-width="1.2"/>
<line x1="468.50" y1="1530.70" x2="468.50" y2="1536.70" stroke="#151515" stroke-width="1.3"/>
<text x="468.00" y="1572.80" font-size="26" text-anchor="middle">D<tspan font-size="17.5" dy="8.3">3</tspan></text>
<line x1="541.75" y1="1347.50" x2="541.75" y2="1333.00" stroke="#111" stroke-width="1.2"/>
<line x1="536.75" y1="1333.00" x2="546.75" y2="1333.00" stroke="#111" stroke-width="1.2"/>
<rect x="534.35" y="1347.50" width="14.80" height="183.20" fill="#000"/>
<line x1="560.05" y1="1446.50" x2="560.05" y2="1436.30" stroke="#111" stroke-width="1.2"/>
<line x1="555.05" y1="1436.30" x2="565.05" y2="1436.30" stroke="#111" stroke-width="1.2"/>
<rect x="553.05" y="1447.00" width="14.00" height="83.70" fill="#c0c0c0" stroke="#000" stroke-width="1.2"/>
<line x1="578.35" y1="1419.50" x2="578.35" y2="1412.90" stroke="#111" stroke-width="1.2"/>
<line x1="573.35" y1="1412.90" x2="583.35" y2="1412.90" stroke="#111" stroke-width="1.2"/>
<rect x="571.35" y="1420.00" width="14.00" height="110.70" fill="#606060" stroke="#000" stroke-width="1.2"/>
<line x1="560.05" y1="1530.70" x2="560.05" y2="1536.70" stroke="#151515" stroke-width="1.3"/>
<text x="559.55" y="1572.80" font-size="26" text-anchor="middle">D<tspan font-size="17.5" dy="8.3">4</tspan></text>
<text x="376.95" y="1609.70" font-size="25.9" text-anchor="middle" font-weight="normal">Molt stage</text>
<text x="266.50" y="1175.50" font-size="25" text-anchor="middle" font-weight="normal">*</text>
<text x="359.50" y="1190.50" font-size="25" text-anchor="middle" font-weight="normal">*</text>
<text font-size="25.5" text-anchor="middle" transform="rotate(-90 0 0)"><tspan x="-1334.70" y="25.1">DH-31 mRNA normalised to GEO</tspan><tspan x="-1334.70" y="54.8">mean of ref genes</tspan></text>
<line x1="892.20" y1="1133.20" x2="1444.10" y2="1133.20" stroke="#151515" stroke-width="1.3"/>
<line x1="892.20" y1="1530.20" x2="1444.10" y2="1530.20" stroke="#151515" stroke-width="1.3"/>
<line x1="892.20" y1="1133.20" x2="892.20" y2="1530.20" stroke="#151515" stroke-width="1.3"/>
<line x1="1444.10" y1="1133.20" x2="1444.10" y2="1530.20" stroke="#151515" stroke-width="1.3"/>
<line x1="886.20" y1="1530.20" x2="892.20" y2="1530.20" stroke="#151515" stroke-width="1.3"/>
<text x="873.70" y="1538.05" font-size="25" text-anchor="end" font-weight="normal">0</text>
<line x1="886.20" y1="1464.03" x2="892.20" y2="1464.03" stroke="#151515" stroke-width="1.3"/>
<text x="873.70" y="1471.88" font-size="25" text-anchor="end" font-weight="normal">5</text>
<line x1="886.20" y1="1397.87" x2="892.20" y2="1397.87" stroke="#151515" stroke-width="1.3"/>
<text x="873.70" y="1405.72" font-size="25" text-anchor="end" font-weight="normal">10</text>
<line x1="886.20" y1="1331.70" x2="892.20" y2="1331.70" stroke="#151515" stroke-width="1.3"/>
<text x="873.70" y="1339.55" font-size="25" text-anchor="end" font-weight="normal">15</text>
<line x1="886.20" y1="1265.53" x2="892.20" y2="1265.53" stroke="#151515" stroke-width="1.3"/>
<text x="873.70" y="1273.38" font-size="25" text-anchor="end" font-weight="normal">20</text>
<line x1="886.20" y1="1199.37" x2="892.20" y2="1199.37" stroke="#151515" stroke-width="1.3"/>
<text x="873.70" y="1207.22" font-size="25" text-anchor="end" font-weight="normal">25</text>
<line x1="886.20" y1="1133.20" x2="892.20" y2="1133.20" stroke="#151515" stroke-width="1.3"/>
<text x="873.70" y="1141.05" font-size="25" text-anchor="end" font-weight="normal">30</text>
<line x1="928.99" y1="1512.60" x2="928.99" y2="1510.40" stroke="#111" stroke-width="1.2"/>
<line x1="923.99" y1="1510.40" x2="933.99" y2="1510.40" stroke="#111" stroke-width="1.2"/>
<rect x="917.96" y="1512.60" width="22.08" height="17.60" fill="#c0c0c0" stroke="#000" stroke-width="1.25"/>
<line x1="928.99" y1="1530.20" x2="928.99" y2="1536.20" stroke="#151515" stroke-width="1.3"/>
<text x="937.99" y="1556.20" font-size="25" text-anchor="end" transform="rotate(-45 937.99 1556.20)">Antennal gland</text>
<line x1="965.79" y1="1503.60" x2="965.79" y2="1495.90" stroke="#111" stroke-width="1.2"/>
<line x1="960.79" y1="1495.90" x2="970.79" y2="1495.90" stroke="#111" stroke-width="1.2"/>
<rect x="954.75" y="1503.60" width="22.08" height="26.60" fill="#c0c0c0" stroke="#000" stroke-width="1.25"/>
<line x1="965.79" y1="1530.20" x2="965.79" y2="1536.20" stroke="#151515" stroke-width="1.3"/>
<text x="974.79" y="1556.20" font-size="25" text-anchor="end" transform="rotate(-45 974.79 1556.20)">Epidermis</text>
<line x1="1002.58" y1="1524.50" x2="1002.58" y2="1523.60" stroke="#111" stroke-width="1.2"/>
<line x1="997.58" y1="1523.60" x2="1007.58" y2="1523.60" stroke="#111" stroke-width="1.2"/>
<rect x="991.54" y="1524.50" width="22.08" height="5.70" fill="#c0c0c0" stroke="#000" stroke-width="1.25"/>
<line x1="1002.58" y1="1530.20" x2="1002.58" y2="1536.20" stroke="#151515" stroke-width="1.3"/>
<text x="1011.58" y="1556.20" font-size="25" text-anchor="end" transform="rotate(-45 1011.58 1556.20)">Gill</text>
<line x1="1039.37" y1="1519.30" x2="1039.37" y2="1517.50" stroke="#111" stroke-width="1.2"/>
<line x1="1034.37" y1="1517.50" x2="1044.37" y2="1517.50" stroke="#111" stroke-width="1.2"/>
<rect x="1028.34" y="1519.30" width="22.08" height="10.90" fill="#c0c0c0" stroke="#000" stroke-width="1.25"/>
<line x1="1039.37" y1="1530.20" x2="1039.37" y2="1536.20" stroke="#151515" stroke-width="1.3"/>
<text x="1048.37" y="1556.20" font-size="25" text-anchor="end" transform="rotate(-45 1048.37 1556.20)">Midgut gland</text>
<line x1="1076.17" y1="1490.40" x2="1076.17" y2="1481.50" stroke="#111" stroke-width="1.2"/>
<line x1="1071.17" y1="1481.50" x2="1081.17" y2="1481.50" stroke="#111" stroke-width="1.2"/>
<rect x="1065.13" y="1490.40" width="22.08" height="39.80" fill="#c0c0c0" stroke="#000" stroke-width="1.25"/>
<line x1="1076.17" y1="1530.20" x2="1076.17" y2="1536.20" stroke="#151515" stroke-width="1.3"/>
<text x="1085.17" y="1556.20" font-size="25" text-anchor="end" transform="rotate(-45 1085.17 1556.20)">Muscle</text>
<line x1="1112.96" y1="1514.50" x2="1112.96" y2="1512.60" stroke="#111" stroke-width="1.2"/>
<line x1="1107.96" y1="1512.60" x2="1117.96" y2="1512.60" stroke="#111" stroke-width="1.2"/>
<rect x="1101.92" y="1514.50" width="22.08" height="15.70" fill="#c0c0c0" stroke="#000" stroke-width="1.25"/>
<line x1="1112.96" y1="1530.20" x2="1112.96" y2="1536.20" stroke="#151515" stroke-width="1.3"/>
<text x="1121.96" y="1556.20" font-size="25" text-anchor="end" transform="rotate(-45 1121.96 1556.20)">Y-organ</text>
<line x1="1149.75" y1="1469.10" x2="1149.75" y2="1454.40" stroke="#111" stroke-width="1.2"/>
<line x1="1144.75" y1="1454.40" x2="1154.75" y2="1454.40" stroke="#111" stroke-width="1.2"/>
<rect x="1138.72" y="1469.10" width="22.08" height="61.10" fill="#c0c0c0" stroke="#000" stroke-width="1.25"/>
<line x1="1149.75" y1="1530.20" x2="1149.75" y2="1536.20" stroke="#151515" stroke-width="1.3"/>
<text x="1158.75" y="1556.20" font-size="25" text-anchor="end" transform="rotate(-45 1158.75 1556.20)">Vas deferens</text>
<line x1="1186.55" y1="1526.30" x2="1186.55" y2="1524.50" stroke="#111" stroke-width="1.2"/>
<line x1="1181.55" y1="1524.50" x2="1191.55" y2="1524.50" stroke="#111" stroke-width="1.2"/>
<rect x="1175.51" y="1526.30" width="22.08" height="3.90" fill="#c0c0c0" stroke="#000" stroke-width="1.25"/>
<line x1="1186.55" y1="1530.20" x2="1186.55" y2="1536.20" stroke="#151515" stroke-width="1.3"/>
<text x="1195.55" y="1556.20" font-size="25" text-anchor="end" transform="rotate(-45 1195.55 1556.20)">Ovary</text>
<line x1="1223.34" y1="1293.90" x2="1223.34" y2="1185.80" stroke="#111" stroke-width="1.2"/>
<line x1="1218.34" y1="1185.80" x2="1228.34" y2="1185.80" stroke="#111" stroke-width="1.2"/>
<rect x="1212.30" y="1293.90" width="22.08" height="236.30" fill="#c0c0c0" stroke="#000" stroke-width="1.25"/>
<line x1="1223.34" y1="1530.20" x2="1223.34" y2="1536.20" stroke="#151515" stroke-width="1.3"/>
<text x="1232.34" y="1556.20" font-size="25" text-anchor="end" transform="rotate(-45 1232.34 1556.20)">Eyestalk</text>
<line x1="1260.13" y1="1481.50" x2="1260.13" y2="1477.40" stroke="#111" stroke-width="1.2"/>
<line x1="1255.13" y1="1477.40" x2="1265.13" y2="1477.40" stroke="#111" stroke-width="1.2"/>
<rect x="1249.10" y="1481.50" width="22.08" height="48.70" fill="#c0c0c0" stroke="#000" stroke-width="1.25"/>
<line x1="1260.13" y1="1530.20" x2="1260.13" y2="1536.20" stroke="#151515" stroke-width="1.3"/>
<text x="1269.13" y="1556.20" font-size="25" text-anchor="end" transform="rotate(-45 1269.13 1556.20)">Cerebral ganglion</text>
<line x1="1296.93" y1="1504.60" x2="1296.93" y2="1498.00" stroke="#111" stroke-width="1.2"/>
<line x1="1291.93" y1="1498.00" x2="1301.93" y2="1498.00" stroke="#111" stroke-width="1.2"/>
<rect x="1285.89" y="1504.60" width="22.08" height="25.60" fill="#c0c0c0" stroke="#000" stroke-width="1.25"/>
<line x1="1296.93" y1="1530.20" x2="1296.93" y2="1536.20" stroke="#151515" stroke-width="1.3"/>
<text x="1305.93" y="1556.20" font-size="25" text-anchor="end" transform="rotate(-45 1305.93 1556.20)">Ventral ganglion</text>
<line x1="1333.72" y1="1463.80" x2="1333.72" y2="1447.80" stroke="#111" stroke-width="1.2"/>
<line x1="1328.72" y1="1447.80" x2="1338.72" y2="1447.80" stroke="#111" stroke-width="1.2"/>
<rect x="1322.68" y="1463.80" width="22.08" height="66.40" fill="#c0c0c0" stroke="#000" stroke-width="1.25"/>
<line x1="1333.72" y1="1530.20" x2="1333.72" y2="1536.20" stroke="#151515" stroke-width="1.3"/>
<text x="1342.72" y="1556.20" font-size="25" text-anchor="end" transform="rotate(-45 1342.72 1556.20)">Hindgut</text>
<line x1="1370.51" y1="1437.00" x2="1370.51" y2="1401.10" stroke="#111" stroke-width="1.2"/>
<line x1="1365.51" y1="1401.10" x2="1375.51" y2="1401.10" stroke="#111" stroke-width="1.2"/>
<rect x="1359.48" y="1437.00" width="22.08" height="93.20" fill="#c0c0c0" stroke="#000" stroke-width="1.25"/>
<line x1="1370.51" y1="1530.20" x2="1370.51" y2="1536.20" stroke="#151515" stroke-width="1.3"/>
<text x="1379.51" y="1556.20" font-size="25" text-anchor="end" transform="rotate(-45 1379.51 1556.20)">Leg</text>
<line x1="1407.31" y1="1360.80" x2="1407.31" y2="1338.30" stroke="#111" stroke-width="1.2"/>
<line x1="1402.31" y1="1338.30" x2="1412.31" y2="1338.30" stroke="#111" stroke-width="1.2"/>
<rect x="1396.27" y="1360.80" width="22.08" height="169.40" fill="#c0c0c0" stroke="#000" stroke-width="1.25"/>
<line x1="1407.31" y1="1530.20" x2="1407.31" y2="1536.20" stroke="#151515" stroke-width="1.3"/>
<text x="1416.31" y="1556.20" font-size="25" text-anchor="end" transform="rotate(-45 1416.31 1556.20)">Heart</text>
<text x="1226.00" y="1184.50" font-size="25" text-anchor="middle" font-weight="normal">*</text>
<text x="1407.00" y="1339.00" font-size="25" text-anchor="middle" font-weight="normal">*</text>
<text font-size="25" text-anchor="middle" transform="rotate(-90 0 0)"><tspan x="-1331.70" y="801.6">DH-31R mRNA normalised to GEO</tspan><tspan x="-1331.70" y="829.2">mean of ref. genes</tspan></text>
</svg>
</body></html>
